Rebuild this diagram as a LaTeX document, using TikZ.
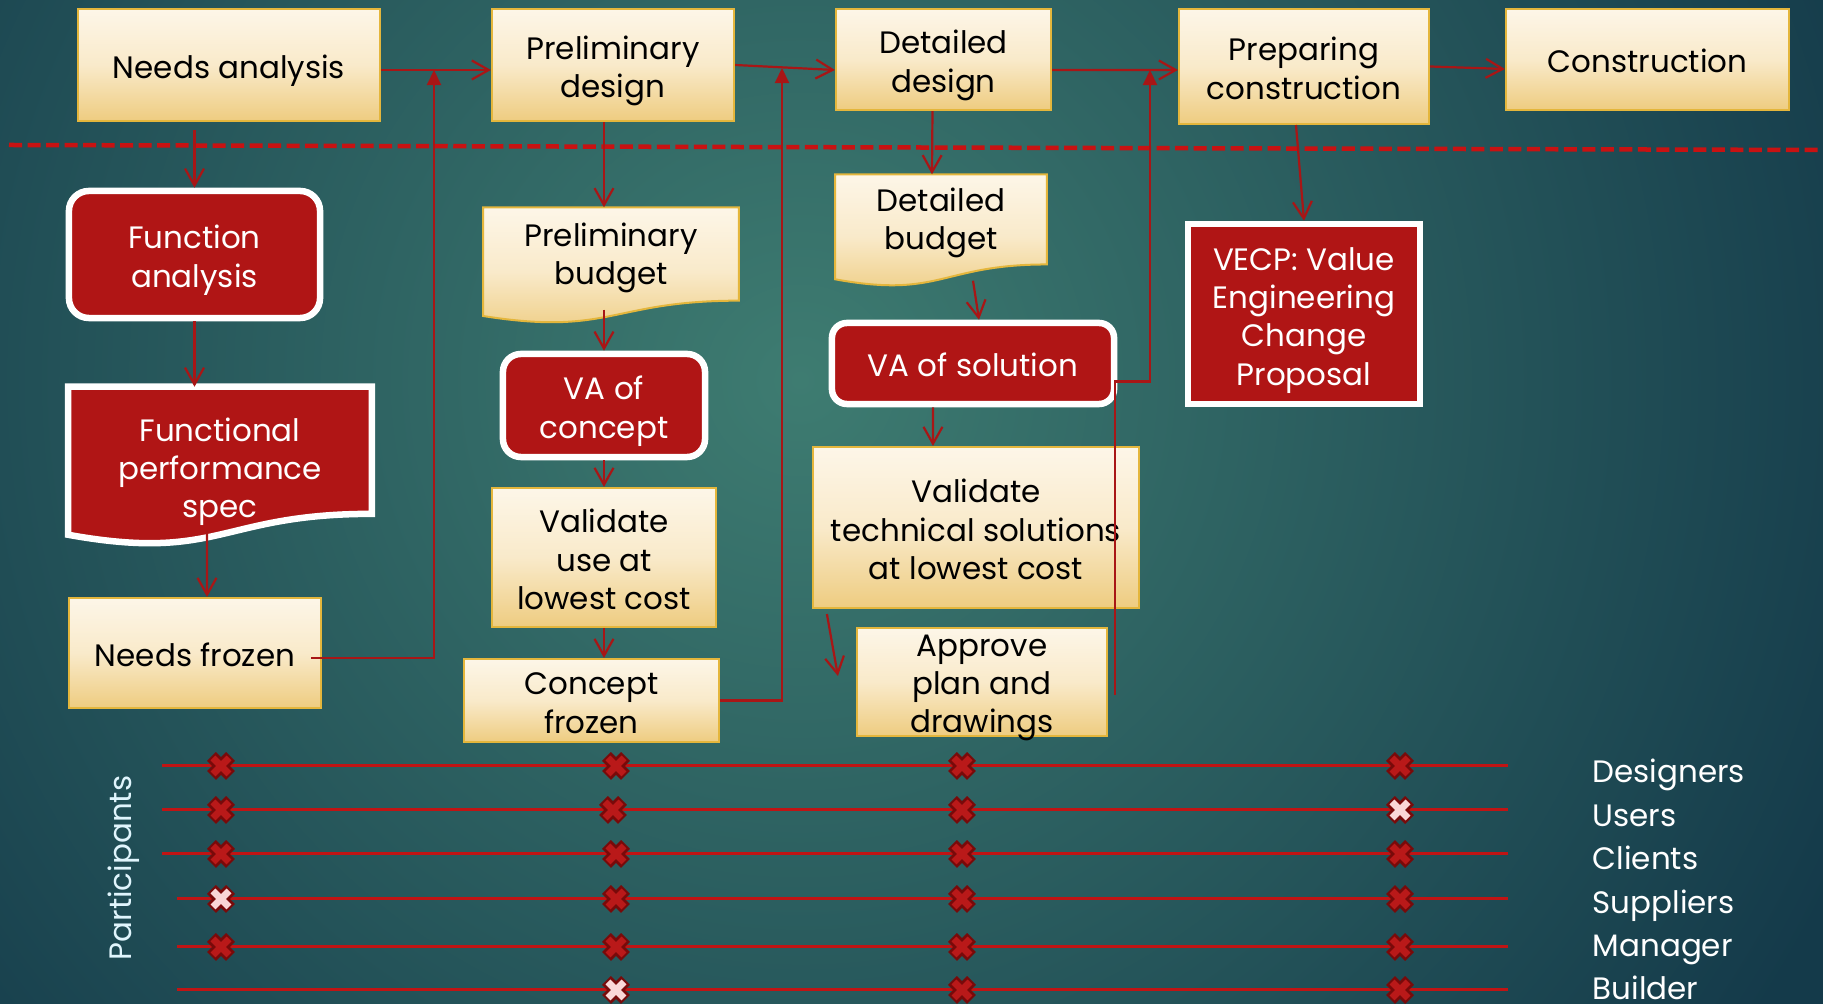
\documentclass[tikz,border=0pt]{standalone}
\usepackage{fontspec}
\setmainfont{Poppins}
\usetikzlibrary{arrows.meta,calc}
\definecolor{bgin}{RGB}{62,124,113}
\definecolor{bgout}{RGB}{20,58,74}
\definecolor{creamtop}{RGB}{253,246,232}
\definecolor{creammid}{RGB}{249,234,202}
\definecolor{creambot}{RGB}{238,204,128}
\definecolor{creamline}{RGB}{228,182,60}
\definecolor{vared}{RGB}{176,21,21}
\definecolor{linkred}{RGB}{168,22,22}
\definecolor{dashred}{RGB}{200,18,18}
\definecolor{rowred}{RGB}{192,20,20}
\definecolor{xdark}{RGB}{120,10,10}
\definecolor{xred}{RGB}{185,25,25}
\definecolor{xpale}{RGB}{250,215,215}
\pgfdeclarelayer{background}
\pgfsetlayers{background,main}

\begin{document}
\begin{tikzpicture}[x=0.01cm,y=-0.01cm,font=\fontsize{8.8}{10.9}\selectfont]
\tikzset{box/.style = {shape=rectangle,inner sep=0pt,align=center,text height=0.35cm,text depth=0.08cm}}
\tikzset{two/.style = {text height=0.734cm}}
\tikzset{three/.style = {text height=1.117cm}}
\tikzset{four/.style = {text height=1.5cm}}
\tikzset{cream/.style = {box,top color=creamtop,bottom color=creambot,middle color=creammid,draw=creamline,line width=0.02cm}}
\tikzset{redbox/.style = {box,fill=vared,draw=white,line width=0.065cm,text=white}}
\tikzset{redrnd/.style = {redbox,rounded corners=0.2cm}}
\tikzset{doc/.style = {box,text height=0.584cm,text depth=0.2cm}}
\tikzset{docpath/.style = {insert path={(#1.north west) -- (#1.north east)
  -- ($(#1.north east)!0.802!(#1.south east)$)
  .. controls ($(#1.north)!0.802!(#1.south)$) and ($(#1.north)!1.107!(#1.south)$)
  .. ($(#1.north west)!0.934!(#1.south west)$) -- cycle}}}
\tikzset{edge/.style = {draw=linkred,line width=0.022cm,-{Straight Barb[length=4.8pt,width=5.4pt]}}}
\tikzset{joint/.style = {draw=linkred,line width=0.022cm,-{Triangle[length=4.3pt,width=4pt]}}}
\tikzset{rowline/.style = {draw=rowred,line width=0.03cm}}
\tikzset{pics/xmark/.style = {code={
  \draw[xdark,line width=0.125cm] (-9.5,-9.5) -- (9.5,9.5) (-9.5,9.5) -- (9.5,-9.5);
  \draw[#1,line width=0.07cm] (-8,-8) -- (8,8) (-8,8) -- (8,-8);}}}
\useasboundingbox (0,0) rectangle (1823,1004);
% top row
\node[cream, minimum width=3.02cm, minimum height=1.12cm] (na) at (229,65) {Needs analysis};
\node[cream, two, minimum width=2.42cm, minimum height=1.12cm] (pd) at (613,65) {Preliminary\\design};
\node[cream, two, minimum width=2.15cm, minimum height=1.01cm] (dd) at (943.5,59.5) {Detailed\\design};
\node[cream, two, minimum width=2.5cm, minimum height=1.15cm] (pc) at (1304,66.5) {Preparing\\construction};
\node[cream, minimum width=2.83cm, minimum height=1.01cm] (co) at (1647.5,59.5) {Construction};
% needs column
\node[redrnd, two, minimum width=2.51cm, minimum height=1.27cm] (fa) at (194.5,254.5) {Function\\analysis};
\node[box, three, text=white, minimum width=3.02cm, minimum height=1.57cm] (fps) at (220,466) {Functional\\performance\\spec};
\node[cream, minimum width=2.52cm, minimum height=1.1cm] (nf) at (195,653) {Needs frozen};
% preliminary column
\node[doc, minimum width=2.54cm, minimum height=1.15cm] (pb) at (611,265.5) {Preliminary\\budget};
\node[redrnd, two, rounded corners=0.18cm, minimum width=2.02cm, minimum height=1.03cm] (vac) at (604,405.5) {VA of\\concept};
\node[cream, three, minimum width=2.24cm, minimum height=1.39cm] (vu) at (604,557.5) {Validate\\use at\\lowest cost};
\node[cream, two, minimum width=2.55cm, minimum height=0.83cm] (cf) at (591.5,700.5) {Concept\\frozen};
% detailed column
\node[doc, minimum width=2.1cm, minimum height=1.11cm] (db) at (941,230.5) {Detailed\\budget};
\node[redrnd, rounded corners=0.15cm, minimum width=2.82cm, minimum height=0.81cm] (vas) at (973,363.5) {VA of solution};
\node[cream, three, minimum width=3.26cm, minimum height=1.61cm] (vt) at (976,527.5) {Validate\\technical solutions\\at lowest cost};
\node[cream, text height=1.017cm, text depth=0cm, minimum width=2.5cm, minimum height=1.08cm] (ap) at (982,682) {Approve\\plan and\\drawings};
% construction column
\node[redbox, four, minimum width=2.32cm, minimum height=1.8cm] (vecp) at (1304,314) {VECP: Value\\Engineering\\Change\\Proposal};
% junctions and separator
\coordinate (j1) at (434,70);
\coordinate (j2) at (782,68);
\coordinate (j3) at (1150,70);
\coordinate (dl) at (9,145);
\coordinate (dr) at (1823,150);
\begin{pgfonlayer}{background}
\fill[bgout] (0,0) rectangle (1823,1004);
\begin{scope}
\clip (0,0) rectangle (1823,1004);
\shade[inner color=bgin,outer color=bgout] (800,380) circle (11.5cm);
\end{scope}
\shade[cream,docpath=pb];
\shade[cream,docpath=db];
\path[redbox,docpath=fps];
\end{pgfonlayer}
\draw[dashred,line width=0.045cm,dash pattern=on 0.13cm off 0.055cm] (dl) -- (dr);
%edges
\draw[edge] ([yshift=-0.05cm]na.east) -- ([yshift=-0.05cm]pd.west);
\draw[edge] (pd.east) -- ([yshift=-0.105cm]dd.west);
\draw[edge] ([yshift=-0.105cm]dd.east) -- ([yshift=-0.035cm]pc.west);
\draw[edge] (pc.east) -- ([yshift=-0.095cm]co.west);
\draw[edge,shorten <=0.08cm] (fa.north |- na.south) -- (fa.north);
\draw[edge] (fa.south) -- (fa.south |- fps.north);
\draw[edge] ([xshift=-0.13cm,yshift=0.145cm]fps.south) -- ([xshift=0.12cm]nf.north);
\draw[joint] ([xshift=-0.11cm,yshift=-0.05cm]nf.east) -| (j1);
\draw[edge] (vac.north |- pd.south) -- (vac.north |- pb.north);
\draw[edge,shorten <=-0.14cm] (vac.north |- pb.south) -- (vac.north);
\draw[edge] (vac.south) -- (vu.north);
\draw[edge] (vu.south) -- (vu.south |- cf.north);
\draw[joint] (cf.east) -| (j2);
\draw[edge] ([xshift=-0.11cm]dd.south) -- ([xshift=-0.09cm]db.north);
\draw[edge] ([xshift=0.32cm,yshift=0.06cm]db.south) -- ([xshift=0.06cm]vas.north);
\draw[edge] ([xshift=-0.4cm]vas.south) -- ([xshift=-0.43cm]vt.north);
\draw[edge] ([xshift=0.15cm,yshift=-0.05cm]vt.south west) -- ([xshift=-0.18cm,yshift=0.06cm]ap.west);
\draw[joint] ([xshift=0.07cm,yshift=-0.13cm]ap.east) |- ([yshift=-0.18cm]vas.east) -| (j3);
\draw[edge] ([xshift=-0.08cm]pc.south) -- (vecp.north);
% participants
\node[text=white!88!cyan, rotate=90] (part) at (124,868) {Participants};
\foreach \y/\s in {766/162,810/162,854/162,899/177,947/177,990/177}
  \draw[rowline] (\s,\y) -- (1508,\y);
\foreach \t [count=\r] in {Designers,Users,Clients,Suppliers,Manager,Builder}
  \node[text=white, inner sep=0pt, anchor=base west] (p\r) at (1592,{783+43.4*(\r-1)}) {\t};
\foreach \y/\xs in {766/{221,616,962,1400},810/{221,613,962},854/{221,616,962,1400},899/{616,962,1400},947/{221,616,962,1400},990/{962,1400}}
  \foreach \x in \xs \pic at (\x,\y) {xmark=xred};
\foreach \x/\y in {1400/810,221/899,616/990}
  \pic at (\x,\y) {xmark=xpale};
\end{tikzpicture}
\end{document}
